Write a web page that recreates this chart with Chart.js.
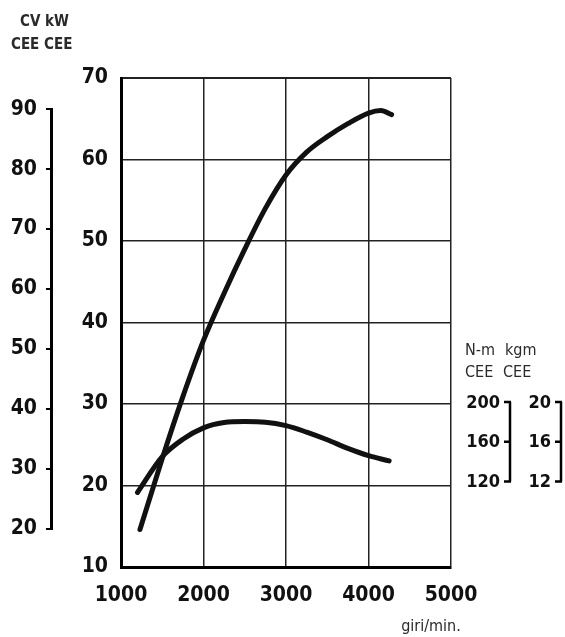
<!DOCTYPE html>
<html lang="it">
<head>
<meta charset="UTF-8">
<title>Curve di potenza e coppia</title>
<script src="https://cdn.jsdelivr.net/npm/chart.js@4"></script>
<style>
  body { margin: 0; background: #fff; }
  #engineChart { display: block; }
</style>
</head>
<body>
<canvas id="engineChart" width="565" height="637"></canvas>
<script>
// tick labels
const rpmTicks = [1000, 2000, 3000, 4000, 5000];
const kwTicks = [10, 20, 30, 40, 50, 60, 70];
const cvTicks = [20, 30, 40, 50, 60, 70, 80, 90];
const nmTicks = [120, 160, 200];
const kgmTicks = [12, 16, 20];

// power curve (kW CEE)
const powerRpm = [1230, 1500, 1750, 2000, 2250, 2500, 2750, 3000, 3250, 3500, 3750, 4000, 4150, 4280];
const powerKw  = [14.6, 23.3, 30.9, 37.8, 43.6, 49.0, 54.0, 58.1, 60.9, 62.8, 64.4, 65.7, 66.0, 65.5];

// torque curve (N-m CEE)
const torqueRpm = [1200, 1500, 1750, 2000, 2250, 2500, 2750, 3000, 3250, 3500, 3750, 4000, 4250];
const torqueNm  = [109, 145, 162.5, 174, 179.3, 180.3, 179.7, 176.3, 169.7, 162, 153.3, 146, 140.7];

const CV_PER_KW = 1.36;
// the N-m scale sits at an arbitrary offset against the kW grid
const NM_MIN = 34, NM_MAX = 526;

// no narrow Helvetica here, the condensed DejaVu is the closest
const FONT = "'DejaVu Sans Condensed', 'Liberation Sans Narrow', sans-serif";
Chart.defaults.font.family = FONT;
Chart.defaults.color = '#111';

const fixedTicks = list => scale => { scale.ticks = list.map(v => ({ value: v })); };
const bigTick = { family: FONT, size: 21, weight: 'bold' };

const curve = {
  borderColor: '#111',
  borderWidth: 5,
  borderCapStyle: 'round',
  borderJoinStyle: 'round',
  pointRadius: 0,
  fill: false,
  cubicInterpolationMode: 'monotone'
};

const decorations = {
  id: 'decorations',
  afterDraw(chart) {
    const c = chart.ctx;
    const s = chart.scales;
    c.save();
    c.strokeStyle = '#000';
    c.fillStyle = '#111';

    // CV scale line, only between its end ticks
    const cvX = s.cv.right - 1.5;
    c.lineWidth = 3;
    c.beginPath();
    c.moveTo(cvX, s.cv.getPixelForValue(cvTicks[0]));
    c.lineTo(cvX, s.cv.getPixelForValue(cvTicks[cvTicks.length - 1]));
    c.stroke();

    // torque brackets on the right
    function bracket(scale, ticks, x) {
      const top = scale.getPixelForValue(ticks[ticks.length - 1]);
      const bot = scale.getPixelForValue(ticks[0]);
      c.lineWidth = 2.5;
      c.beginPath();
      c.moveTo(x, top);
      c.lineTo(x, bot);
      ticks.forEach(v => {
        const y = scale.getPixelForValue(v);
        c.moveTo(x - 6, y);
        c.lineTo(x + 1, y);
      });
      c.stroke();
      c.font = 'bold 18px ' + FONT;
      c.textAlign = 'right';
      c.textBaseline = 'middle';
      ticks.forEach(v => c.fillText(String(v), x - 10, scale.getPixelForValue(v) + 1));
    }
    bracket(s.nm, nmTicks, 510);
    bracket(s.kgm, kgmTicks, 561);

    // unit headers
    c.fillStyle = '#2a2a2a';
    c.textAlign = 'left';
    c.textBaseline = 'middle';
    c.font = 'bold 15px ' + FONT;
    c.fillText('CV kW', 20, 22);
    c.fillText('CEE CEE', 11, 45);
    c.font = '16px ' + FONT;
    c.fillText('N-m', 465, 351);
    c.fillText('kgm', 505, 351);
    c.fillText('CEE', 465, 373);
    c.fillText('CEE', 503, 373);
    c.textAlign = 'center';
    c.fillText('giri/min.', 431, 627);
    c.restore();
  }
};

new Chart(document.getElementById('engineChart'), {
  type: 'line',
  data: {
    datasets: [
      {
        label: 'Potenza kW',
        data: powerRpm.map((r, i) => ({ x: r, y: powerKw[i] })),
        yAxisID: 'y',
        ...curve
      },
      {
        label: 'Coppia N-m',
        data: torqueRpm.map((r, i) => ({ x: r, y: torqueNm[i] })),
        yAxisID: 'nm',
        ...curve
      }
    ]
  },
  options: {
    responsive: false,
    animation: false,
    layout: { padding: { top: 78, right: 114, left: 0, bottom: 0 } },
    plugins: { legend: { display: false }, tooltip: { enabled: false } },
    scales: {
      x: {
        type: 'linear',
        min: 1000,
        max: 5000,
        afterBuildTicks: fixedTicks(rpmTicks),
        afterFit: s => { s.height = 70; },
        ticks: { font: bigTick, color: '#111', padding: 16, maxRotation: 0, callback: v => String(v) },
        grid: { color: '#222', lineWidth: 1.5, drawTicks: false },
        border: { color: '#000', width: 3 }
      },
      y: {
        position: 'left',
        weight: 0,
        min: 10,
        max: 70,
        afterBuildTicks: fixedTicks(kwTicks),
        afterFit: s => { s.width = 68; },
        ticks: { font: bigTick, color: '#111', padding: 13 },
        grid: {
          color: '#222',
          lineWidth: ctx => (ctx.tick && ctx.tick.value === 70 ? 2 : 1.4),
          drawTicks: false
        },
        border: { color: '#000', width: 3 }
      },
      cv: {
        position: 'left',
        weight: 1,
        min: 10 * CV_PER_KW,
        max: 70 * CV_PER_KW,
        afterBuildTicks: fixedTicks(cvTicks),
        afterFit: s => { s.width = 53; },
        ticks: { font: bigTick, color: '#111', padding: 9 },
        grid: { drawOnChartArea: false, drawTicks: true, tickLength: 7, color: '#000', lineWidth: 2 },
        border: { display: false }
      },
      nm: { display: false, position: 'right', min: NM_MIN, max: NM_MAX },
      kgm: { display: false, position: 'right', min: NM_MIN / 10, max: NM_MAX / 10 }
    }
  },
  plugins: [decorations]
});
</script>
</body>
</html>
